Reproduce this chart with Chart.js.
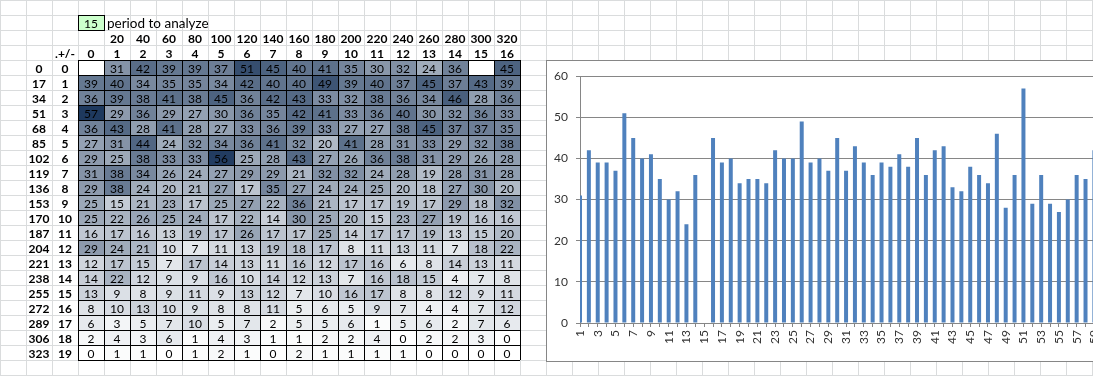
<!DOCTYPE html>
<html><head><meta charset="utf-8">
<script src="https://cdn.jsdelivr.net/npm/chart.js@4.4.1/dist/chart.umd.min.js"></script>
<style>
html,body{margin:0;padding:0;}
body{width:1093px;height:376px;overflow:hidden;position:relative;background-color:#fff;
background-image:linear-gradient(to right,#dadcdd 1px,transparent 1px),linear-gradient(to bottom,#dadcdd 1px,transparent 1px);
background-size:26px 15px;}
#heat{position:absolute;left:0;top:0;}
#box{position:absolute;left:546px;top:60px;width:620px;height:300px;border:1px solid #868686;background:#fff;}
#bars{display:block;}
</style></head><body>
<canvas id="heat" width="540" height="376"></canvas>
<div id="box"><canvas id="bars" width="620" height="300"></canvas></div>
<script>
// ---- data ----
const periodToAnalyze = 15;
const periodLabel = 'period to analyze';
const colPeriods = [null,20,40,60,80,100,120,140,160,180,200,220,240,260,280,300,320];
const colIndex = [0,1,2,3,4,5,6,7,8,9,10,11,12,13,14,15,16];
const rowOffsets = [0,17,34,51,68,85,102,119,136,153,170,187,204,221,238,255,272,289,306,323];
const rowIndex = [0,1,2,3,4,5,6,7,8,9,10,11,12,13,14,15,16,17,18,19];

const r0  = [null,31,42,39,39,37,51,45,40,41,35,30,32,24,36,null,45];
const r1  = [39,40,34,35,35,34,42,40,40,49,39,40,37,45,37,43,39];
const r2  = [36,39,38,41,38,45,36,42,43,33,32,38,36,34,46,28,36];
const r3  = [57,29,36,29,27,30,36,35,42,41,33,36,40,30,32,36,33];
const r4  = [36,43,28,41,28,27,33,36,39,33,27,27,38,45,37,37,35];
const r5  = [27,31,44,24,32,34,36,41,32,20,41,28,31,33,29,32,38];
const r6  = [29,25,38,33,33,56,25,28,43,27,26,36,38,31,29,26,28];
const r7  = [31,38,34,26,24,27,29,29,21,32,32,24,28,19,28,31,28];
const r8  = [29,38,24,20,21,27,17,35,27,24,24,25,20,18,27,30,20];
const r9  = [25,15,21,23,17,25,27,22,36,21,17,17,19,17,29,18,32];
const r10 = [25,22,26,25,24,17,22,14,30,25,20,15,23,27,19,16,16];
const r11 = [16,17,16,13,19,17,26,17,17,25,14,17,17,19,13,15,20];
const r12 = [29,24,21,10,7,11,13,19,18,17,8,11,13,11,7,18,22];
const r13 = [12,17,15,7,17,14,13,11,16,12,17,16,6,8,14,13,11];
const r14 = [14,22,12,9,9,16,10,14,12,13,7,16,18,15,4,7,8];
const r15 = [13,9,8,9,11,9,13,12,7,10,16,17,8,8,12,9,11];
const r16 = [8,10,13,10,9,8,8,11,5,6,5,9,7,4,4,7,12];
const r17 = [6,3,5,7,10,5,7,2,5,5,6,1,5,6,2,7,6];
const r18 = [2,4,3,6,1,4,3,1,1,2,2,4,0,2,2,3,0];
const r19 = [0,1,1,0,1,2,1,0,2,1,1,1,1,0,0,0,0];

const barCategories = [1,2,3,4,5,6,7,8,9,10,11,12,13,14,15,16,17,18,19,20,21,22,23,24,25,26,27,28,29,30,31,32,33,34,35,36,37,38,39,40,41,42,43,44,45,46,47,48,49,50,51,52,53,54,55,56,57,58,59,60,61,62];
const barValues = [31,42,39,39,37,51,45,40,41,35,30,32,24,36,null,45,
  39,40,34,35,35,34,42,40,40,49,39,40,37,45,37,43,39,
  36,39,38,41,38,45,36,42,43,33,32,38,36,34,46,28,36,
  57,29,36,29,27,30,36,35,42,41,33,36];

// ---- heatmap ----
const table = [r0,r1,r2,r3,r4,r5,r6,r7,r8,r9,r10,r11,r12,r13,r14,r15,r16,r17,r18,r19];
const allVals = table.flat().filter(v => v != null);
const vMin = Math.min(...allVals), vMax = Math.max(...allVals);
const lo = [255,255,255], hi = [30,57,94];
function heatColor(v){
  if (v == null) return '#ffffff';
  const t = (v - vMin) / (vMax - vMin);
  const c = lo.map((a,k) => Math.round(a + (hi[k]-a)*t));
  return `rgb(${c[0]},${c[1]},${c[2]})`;
}
Chart.defaults.font.family = 'Lato';

const heatText = {
  id: 'heatText',
  afterDraw(chart){
    const {ctx, scales:{x, y}} = chart;
    const base = v => y.getPixelForValue(v) + 5;
    ctx.save();
    ctx.fillStyle = '#000';
    ctx.textAlign = 'center';
    ctx.textBaseline = 'alphabetic';
    ctx.font = '12px Lato';
    table.forEach((row,i) => row.forEach((v,j) => {
      if (v != null) ctx.fillText(String(v), x.getPixelForValue(j), base(i + 0.5));
    }));
    ctx.font = 'bold 12px Lato';
    colPeriods.forEach((p,j) => { if (p != null) ctx.fillText(String(p), x.getPixelForValue(j), base(-1.5)); });
    colIndex.forEach((c,j) => ctx.fillText(String(c), x.getPixelForValue(j), base(-0.5)));
    ctx.fillText('.+/-', x.getPixelForValue(-1), base(-0.5));
    rowOffsets.forEach((o,i) => ctx.fillText(String(o), x.getPixelForValue(-2), base(i + 0.5)));
    rowIndex.forEach((r,i) => ctx.fillText(String(r), x.getPixelForValue(-1), base(i + 0.5)));
    // parameter cell
    const l = Math.round(x.getPixelForValue(-0.5)), r = Math.round(x.getPixelForValue(0.5));
    const t = Math.round(y.getPixelForValue(-3)), b = Math.round(y.getPixelForValue(-2));
    ctx.fillStyle = '#ccffcc';
    ctx.fillRect(l, t, r - l, b - t);
    ctx.strokeStyle = '#000';
    ctx.lineWidth = 1;
    ctx.strokeRect(l + 0.5, t + 0.5, r - l, b - t);
    ctx.fillStyle = '#000';
    ctx.font = '12px Lato';
    ctx.fillText(String(periodToAnalyze), x.getPixelForValue(0), base(-2.5));
    ctx.textAlign = 'left';
    ctx.font = '13.5px Lato';
    ctx.fillText(periodLabel, r + 3, base(-2.5));
    ctx.restore();
  }
};

new Chart(document.getElementById('heat'), {
  type: 'bar',
  data: {
    labels: colIndex,
    datasets: table.map((row,i) => ({
      data: row.map(() => [i, i + 1]),
      backgroundColor: row.map(heatColor),
      borderWidth: 0,
      grouped: false,
      barPercentage: 1,
      categoryPercentage: 1,
      inflateAmount: 0
    }))
  },
  options: {
    responsive: false, animation: false, events: [],
    layout: { padding: { left: 78, top: 60, right: 20, bottom: 16 } },
    plugins: { legend: { display: false }, tooltip: { enabled: false } },
    scales: {
      x: { grid: { color: '#000', lineWidth: 1, drawTicks: false, z: 1, offset: true },
           border: { display: false }, ticks: { display: false }, afterFit: s => { s.height = 0; } },
      y: { reverse: true, min: 0, max: 20, ticks: { display: false, stepSize: 1 },
           grid: { color: '#000', lineWidth: 1, drawTicks: false, z: 1 },
           border: { display: false }, afterFit: s => { s.width = 0; } }
    }
  },
  plugins: [heatText]
});

// ---- bar chart ----
new Chart(document.getElementById('bars'), {
  type: 'bar',
  data: { labels: barCategories, datasets: [{ data: barValues, backgroundColor: '#4F81BD',
    barPercentage: 0.45, categoryPercentage: 1, clip: 0 }] },
  options: {
    responsive: false, animation: false, events: [],
    layout: { padding: { top: 14, right: 46, left: 0, bottom: 0 } },
    plugins: { legend: { display: false }, tooltip: { enabled: false } },
    scales: {
      x: { offset: false,
           grid: { offset: false, drawOnChartArea: false, drawTicks: true, tickLength: 4, color: '#868686' },
           border: { color: '#868686' },
           ticks: { autoSkip: false, minRotation: 90, maxRotation: 90, padding: 3, color: '#333', font: { size: 12 },
                    callback: (v, i) => (i % 2 === 0 ? String(barCategories[i]) : '') },
           afterFit: s => { s.height = 38; } },
      y: { min: 0, max: 60,
           ticks: { stepSize: 10, padding: 8, color: '#333', font: { size: 12 } },
           grid: { color: '#868686', tickLength: 4 },
           border: { color: '#868686' },
           afterFit: s => { s.width = 33; } }
    }
  }
});
</script></body></html>
